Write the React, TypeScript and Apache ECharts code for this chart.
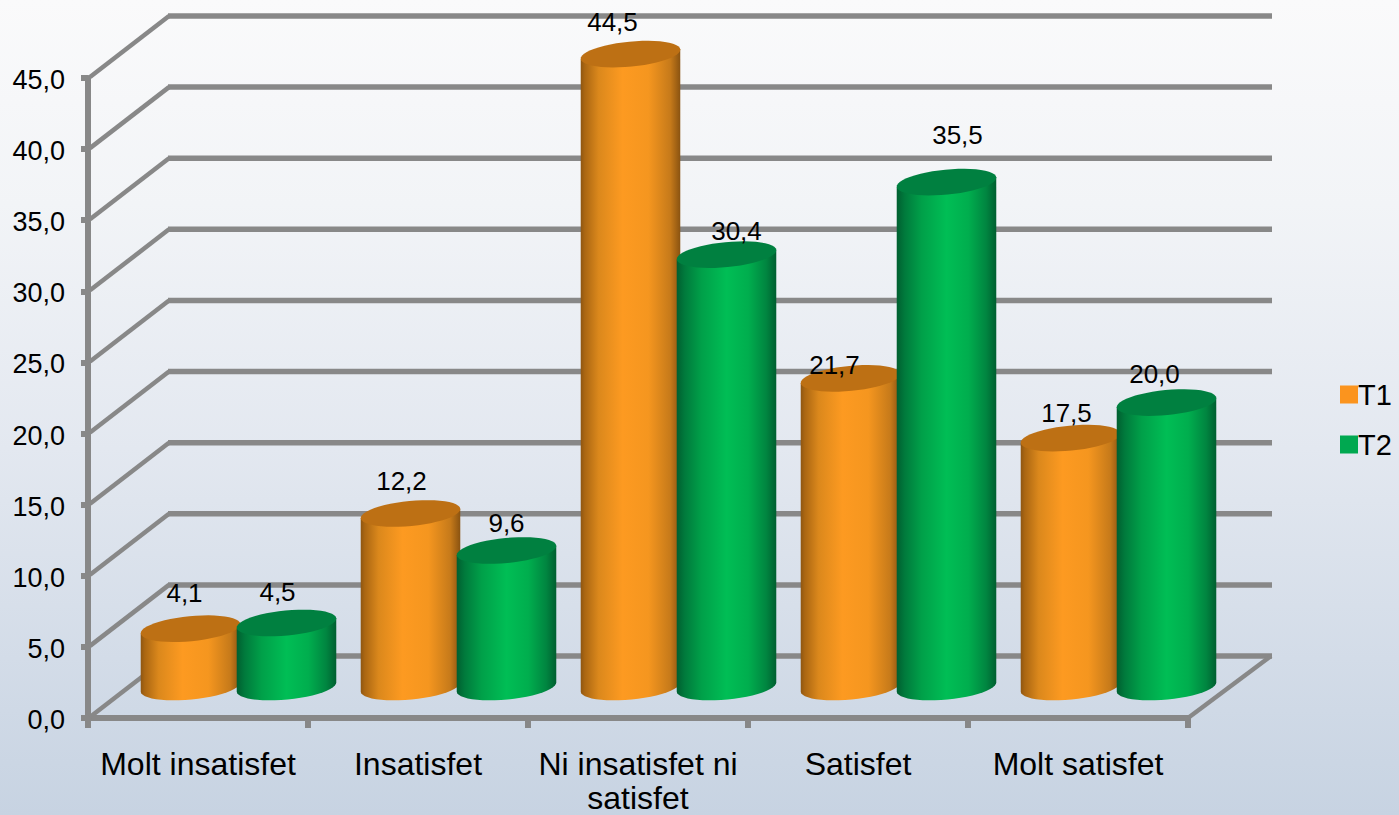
import React, { useEffect, useRef } from "react";
import * as echarts from "echarts";

const categories = ["Molt insatisfet", "Insatisfet", "Ni insatisfet ni\nsatisfet", "Satisfet", "Molt satisfet"];
const t1Values = [4.1, 12.2, 44.5, 21.7, 17.5];
const t2Values = [4.5, 9.6, 30.4, 35.5, 20.0];
const yTicks = [0, 5, 10, 15, 20, 25, 30, 35, 40, 45];

// Hand placement of the data labels relative to each cylinder's top (as in the source chart)
const t1LabelNudge = [[-6, -36], [-9, -32], [-18, -32], [-16, -13], [-4, -25]];
const t2LabelNudge = [[-9, -31], [0, -27], [10, -24], [11, -47], [-12, -29]];

const FONT = '"Liberation Sans", Arial, sans-serif';
const DEPTH_X = 81;
const DEPTH_Y = 62;
const BAR_A = 50;
const BAR_B = 12.5;
const TILT = (-5.5 * Math.PI) / 180;
const GAP = 48;
const GRID_COLOR = "#888888";

const comma = (v: number) => v.toFixed(1).replace(".", ",");

function ellipsePoint(cx: number, cy: number, t: number) {
  const c = Math.cos(t);
  const s = Math.sin(t);
  return [
    cx + BAR_A * c * Math.cos(TILT) - BAR_B * s * Math.sin(TILT),
    cy + BAR_A * c * Math.sin(TILT) + BAR_B * s * Math.cos(TILT),
  ];
}

function cylinderSeries(name: string, values: number[], side: number, nudge: number[][], stops: any[], topColor: string, legendColor: string) {
  return {
    type: "custom",
    name,
    z: 5,
    itemStyle: { color: legendColor },
    encode: { x: 0, y: 1 },
    data: values.map((v, i) => [i, v]),
    renderItem: (_params: any, api: any) => {
      const idx = api.value(0);
      const val = api.value(1);
      const base = api.coord([idx, 0]);
      const top = api.coord([idx, val]);
      const cx = base[0] + DEPTH_X / 2 + side * GAP;
      const baseY = base[1] - DEPTH_Y / 2;
      const topY = top[1] - DEPTH_Y / 2;
      const N = 48;
      const topPts: number[][] = [];
      for (let k = 0; k < N; k++) topPts.push(ellipsePoint(cx, topY, (k / N) * Math.PI * 2));
      const bodyPts: number[][] = [ellipsePoint(cx, topY, Math.PI), ellipsePoint(cx, topY, 0)];
      for (let k = 0; k <= N / 2; k++) bodyPts.push(ellipsePoint(cx, baseY, (k / (N / 2)) * Math.PI));
      const n = nudge[idx];
      return {
        type: "group",
        children: [
          {
            type: "polygon",
            shape: { points: bodyPts },
            style: { fill: new echarts.graphic.LinearGradient(0, 0, 1, 0, stops) },
          },
          { type: "polygon", shape: { points: topPts }, style: { fill: topColor } },
          {
            type: "text",
            x: cx + n[0],
            y: topY + n[1],
            style: {
              text: comma(val),
              fill: "#000",
              fontFamily: FONT,
              fontSize: 26,
              align: "center",
              verticalAlign: "middle",
            },
          },
        ],
      };
    },
  };
}

const orangeStops = [
  { offset: 0, color: "#8E5612" },
  { offset: 0.04, color: "#AA6612" },
  { offset: 0.18, color: "#DB881C" },
  { offset: 0.42, color: "#FD9A21" },
  { offset: 0.68, color: "#F5961F" },
  { offset: 0.9, color: "#C67A1A" },
  { offset: 1, color: "#8A5311" },
];
const greenStops = [
  { offset: 0, color: "#005F30" },
  { offset: 0.08, color: "#007A3C" },
  { offset: 0.25, color: "#00A049" },
  { offset: 0.5, color: "#00BE55" },
  { offset: 0.72, color: "#00AE4E" },
  { offset: 0.9, color: "#008540" },
  { offset: 1, color: "#005F30" },
];

export default function App() {
  const ref = useRef<HTMLDivElement>(null);

  useEffect(() => {
    const chart = echarts.init(ref.current!, null, { renderer: "svg" });
    chart.setOption({
      animation: false,
      backgroundColor: new echarts.graphic.LinearGradient(0, 0, 0, 1, [
        { offset: 0, color: "#FAFAFB" },
        { offset: 0.25, color: "#F2F4F7" },
        { offset: 0.55, color: "#E3E8F0" },
        { offset: 1, color: "#C7D3E2" },
      ]),
      grid: { left: 88, top: 78, width: 1100, height: 640, outerBoundsMode: "none", containLabel: false },
      legend: {
        orient: "vertical",
        left: 1335,
        top: 375,
        itemWidth: 18,
        itemHeight: 18,
        itemGap: 21,
        icon: "rect",
        data: ["T1", "T2"],
        textStyle: { fontFamily: FONT, fontSize: 29, color: "#000", padding: [0, 0, 0, -5] },
      },
      xAxis: {
        type: "category",
        data: categories,
        boundaryGap: true,
        axisLine: { lineStyle: { color: GRID_COLOR, width: 6 } },
        axisTick: { show: true, alignWithLabel: false, length: 10, lineStyle: { color: GRID_COLOR, width: 6 } },
        axisLabel: {
          interval: 0,
          margin: 29,
          color: "#000",
          fontFamily: FONT,
          fontSize: 32,
          lineHeight: 34,
        },
      },
      yAxis: {
        type: "value",
        min: 0,
        max: 45,
        interval: 5,
        splitLine: { show: false },
        axisLine: { show: true, lineStyle: { color: GRID_COLOR, width: 6 } },
        axisTick: { show: true, length: 7, lineStyle: { color: GRID_COLOR, width: 6 } },
        axisLabel: { show: false },
      },
      series: [
        {
          type: "custom",
          silent: true,
          z: 1,
          encode: { y: 0 },
          data: yTicks.map((t) => [t]),
          renderItem: (params: any, api: any) => {
            const tick = api.value(0);
            const y = api.coord([0, tick])[1];
            const { x, width } = params.coordSys;
            const lineStyle = { stroke: GRID_COLOR, lineWidth: 5.5, fill: "none" };
            const children: any[] = [
              {
                type: "line",
                shape: { x1: x + 2, y1: y - 1, x2: x + DEPTH_X, y2: y - DEPTH_Y },
                style: { stroke: GRID_COLOR, lineWidth: 4.5 },
              },
              {
                type: "line",
                shape: { x1: x + DEPTH_X - 1, y1: y - DEPTH_Y, x2: x + width + DEPTH_X + 3, y2: y - DEPTH_Y },
                style: lineStyle,
              },
              {
                type: "text",
                x: x - 23,
                y: y + 2,
                style: {
                  text: comma(tick),
                  fill: "#000",
                  fontFamily: FONT,
                  fontSize: 27,
                  align: "right",
                  verticalAlign: "middle",
                },
              },
            ];
            if (tick === yTicks[0]) {
              children.push({
                type: "line",
                shape: { x1: x + width, y1: y, x2: x + width + DEPTH_X + 2, y2: y - DEPTH_Y },
                style: { stroke: GRID_COLOR, lineWidth: 4.5 },
              });
            }
            return { type: "group", children };
          },
        },
        cylinderSeries("T1", t1Values, -1, t1LabelNudge, orangeStops, "#BD7014", "#FB941E"),
        cylinderSeries("T2", t2Values, 1, t2LabelNudge, greenStops, "#008040", "#00A850"),
      ],
    });
    return () => chart.dispose();
  }, []);

  return <div ref={ref} style={{ position: "absolute", left: 0, top: 0, width: 1399, height: 815 }} />;
}
